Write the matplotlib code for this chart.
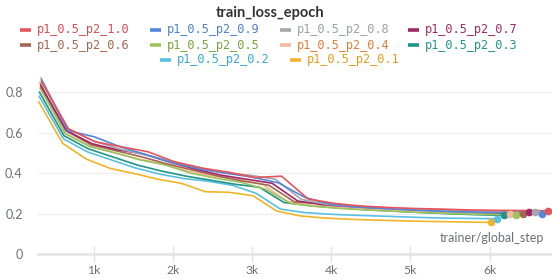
import numpy as np
import matplotlib.pyplot as plt
from matplotlib.lines import Line2D

# runs: p1 fixed at 0.5, p2 swept
run_names = ['p1_0.5_p2_1.0', 'p1_0.5_p2_0.9', 'p1_0.5_p2_0.8', 'p1_0.5_p2_0.7',
             'p1_0.5_p2_0.6', 'p1_0.5_p2_0.5', 'p1_0.5_p2_0.4', 'p1_0.5_p2_0.3',
             'p1_0.5_p2_0.2', 'p1_0.5_p2_0.1']
line_colors = ['#e5545a', '#5387dd', '#a3a8ad', '#a12864', '#a46750',
               '#9cc45a', '#f5b99f', '#229487', '#58c1e0', '#f0b429']
text_colors = ['#d94c52', '#4a7fd6', '#9aa0a6', '#a12864', '#a46750',
               '#7aa23c', '#e07b39', '#229487', '#35aad3', '#e49c18']

# global steps per epoch for each run (epochs logged 1..20)
steps_per_epoch = [337, 333, 329, 325, 321, 317, 313, 309, 305, 301]
n_epochs = 20

loss_p2_10 = [0.85, 0.62, 0.555, 0.53, 0.505, 0.455, 0.425, 0.405, 0.378, 0.385,
              0.272, 0.25, 0.237, 0.23, 0.225, 0.222, 0.218, 0.216, 0.215, 0.214]
loss_p2_09 = [0.86, 0.61, 0.58, 0.53, 0.49, 0.45, 0.42, 0.40, 0.38, 0.352,
              0.28, 0.245, 0.232, 0.225, 0.218, 0.212, 0.208, 0.205, 0.203, 0.20]
loss_p2_08 = [0.87, 0.62, 0.56, 0.52, 0.49, 0.46, 0.43, 0.40, 0.39, 0.37,
              0.27, 0.245, 0.235, 0.228, 0.222, 0.217, 0.213, 0.21, 0.208, 0.206]
loss_p2_07 = [0.83, 0.61, 0.545, 0.515, 0.495, 0.455, 0.42, 0.39, 0.37, 0.35,
              0.262, 0.243, 0.235, 0.228, 0.222, 0.218, 0.215, 0.212, 0.21, 0.209]
loss_p2_06 = [0.84, 0.61, 0.54, 0.51, 0.48, 0.445, 0.415, 0.385, 0.36, 0.34,
              0.258, 0.25, 0.24, 0.232, 0.225, 0.218, 0.212, 0.207, 0.203, 0.20]
loss_p2_05 = [0.82, 0.595, 0.53, 0.50, 0.465, 0.44, 0.40, 0.375, 0.355, 0.32,
              0.25, 0.235, 0.225, 0.218, 0.212, 0.206, 0.202, 0.198, 0.196, 0.194]
loss_p2_04 = [0.85, 0.60, 0.535, 0.50, 0.47, 0.445, 0.41, 0.385, 0.37, 0.345,
              0.26, 0.24, 0.232, 0.225, 0.218, 0.212, 0.207, 0.204, 0.202, 0.20]
loss_p2_03 = [0.80, 0.585, 0.52, 0.48, 0.44, 0.41, 0.385, 0.365, 0.345, 0.33,
              0.255, 0.24, 0.23, 0.222, 0.215, 0.209, 0.203, 0.198, 0.194, 0.191]
loss_p2_02 = [0.78, 0.57, 0.505, 0.465, 0.425, 0.395, 0.373, 0.36, 0.34, 0.30,
              0.222, 0.205, 0.197, 0.192, 0.188, 0.184, 0.18, 0.177, 0.176, 0.174]
loss_p2_01 = [0.752, 0.547, 0.469, 0.423, 0.398, 0.37, 0.349, 0.308, 0.305, 0.288,
              0.212, 0.188, 0.178, 0.172, 0.168, 0.165, 0.162, 0.16, 0.158, 0.156]
all_losses = [loss_p2_10, loss_p2_09, loss_p2_08, loss_p2_07, loss_p2_06,
              loss_p2_05, loss_p2_04, loss_p2_03, loss_p2_02, loss_p2_01]

x_ticks = [1000, 2000, 3000, 4000, 5000, 6000]
x_tick_labels = ['1k', '2k', '3k', '4k', '5k', '6k']
y_ticks = [0, 0.2, 0.4, 0.6, 0.8]
y_tick_labels = ['0', '0.2', '0.4', '0.6', '0.8']

W, H = 552, 279
fig = plt.figure(figsize=(W / 100, H / 100), dpi=100)

def fx(px):
    return px / W

def fy(py):
    return 1 - py / H

ax = fig.add_axes([fx(38), fy(254), fx(552) - fx(38), fy(72) - fy(254)])
ax.set_xlim(290, 6790)
ax.set_ylim(0, 0.9)

# draw in reverse so the first runs end up on top
for i in reversed(range(len(run_names))):
    steps = [steps_per_epoch[i] * (e + 1) for e in range(n_epochs)]
    ax.plot(steps, all_losses[i], color=line_colors[i], lw=1.2, zorder=3,
            solid_joinstyle='round')
    ax.plot(steps[-1], all_losses[i][-1], 'o', color=line_colors[i], ms=4.5,
            zorder=4, clip_on=False)

for s in ['top', 'right', 'left']:
    ax.spines[s].set_visible(False)
ax.spines['bottom'].set_color('#e4e4e4')
ax.spines['bottom'].set_linewidth(1.8)

ax.set_yticks(y_ticks)
ax.set_yticklabels(y_tick_labels)
ax.set_xticks(x_ticks)
ax.set_xticklabels(x_tick_labels)
ax.tick_params(axis='y', length=0, pad=11, labelsize=9, labelcolor='#6c6f7a')
ax.tick_params(axis='x', length=12, width=1, direction='inout', color='#e2e2e2',
               pad=2, labelsize=8.8, labelcolor='#6c6f7a')
for lab in ax.get_xticklabels() + ax.get_yticklabels():
    lab.set_fontfamily('Lato')
ax.grid(axis='y', color='#eeeeee', lw=0.9)
ax.set_axisbelow(True)

ax.text(0.985, 0.055, 'trainer/global_step', transform=ax.transAxes, ha='right',
        va='bottom', fontsize=9, color='#6c6f7a', family='Lato')

fig.text(fx(270), fy(13), 'train_loss_epoch', ha='center', va='center',
         fontsize=10.5, fontweight='bold', color='#333333', family='Lato')

# legend, wandb style: 4 columns, last row centred
handle_x = [20, 150, 280, 408, 20, 150, 280, 408, 160, 290]
row_y = [30, 30, 30, 30, 45, 45, 45, 45, 60, 60]
for i, name in enumerate(run_names):
    hx, ry = handle_x[i], row_y[i]
    fig.add_artist(Line2D([fx(hx), fx(hx + 11)], [fy(ry), fy(ry)], color=line_colors[i],
                          lw=2.6, solid_capstyle='butt', transform=fig.transFigure))
    fig.text(fx(hx + 17), fy(ry), name, ha='left', va='center', fontsize=8.6,
             color=text_colors[i], family='DejaVu Sans Mono')

fig.savefig('out.png', dpi=100)
